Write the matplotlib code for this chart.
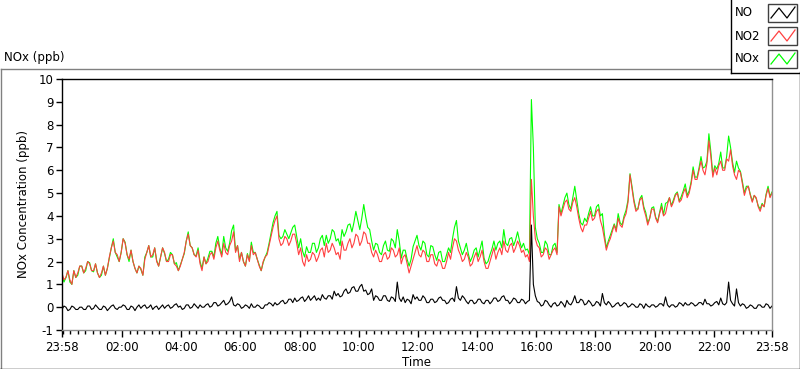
import numpy as np
import matplotlib
matplotlib.use("Agg")
import matplotlib.pyplot as plt
from matplotlib.lines import Line2D
from matplotlib.patches import Rectangle

# ---- data (4-minute samples from 23:58 to 23:58) ----
step_min = 4
no2 = [1.5,1.2,1.3,1.6,1.2,1.0,1.6,1.3,1.5,1.8, 1.8,1.5,1.7,2.0,1.9,1.6,1.6,1.9,1.5,1.3,
       1.5,1.8,1.4,1.7,2.2,2.6,2.9,2.4,2.3,2.0, 2.4,3.0,2.8,2.3,2.1,2.5,2.0,1.7,1.5,1.8,
       1.7,1.4,2.1,2.4,2.7,2.2,2.3,2.6,2.0,1.8, 2.2,2.6,2.4,2.0,2.0,2.3,2.3,1.9,1.8,1.6,
       1.8,2.1,2.4,2.9,3.2,2.7,2.6,2.3,2.2,2.5, 1.9,1.6,2.2,1.9,2.0,2.3,2.4,2.1,2.6,2.9,
       2.5,2.2,2.8,2.4,2.3,2.7,2.9,3.3,2.4,2.7, 2.0,2.4,2.0,1.8,2.3,2.0,2.7,2.3,2.4,2.1,
       1.8,1.6,2.0,2.2,2.3,2.7,3.1,3.5,3.8,4.0, 3.0,2.7,2.8,3.1,3.0,2.7,2.9,3.2,3.2,2.8,
       2.3,2.6,2.0,1.8,2.3,2.0,2.1,2.4,2.3,2.0, 2.2,2.5,2.6,2.2,2.8,2.4,2.5,2.8,2.6,2.3,
       2.4,2.1,2.9,2.5,2.5,2.8,3.0,2.6,2.8,3.2, 3.1,2.7,2.9,3.3,3.2,2.8,2.8,2.4,2.2,2.5,
       2.3,2.0,2.0,2.3,2.4,2.1,2.2,2.6,2.5,2.2, 2.3,2.6,1.9,2.2,2.3,1.9,1.5,1.8,2.1,2.4,
       2.7,2.3,2.2,2.5,2.4,2.0,2.0,2.3,2.3,1.9, 1.8,2.1,2.0,1.7,1.7,2.0,2.4,2.1,2.6,3.0,
       2.9,2.5,2.3,2.0,2.1,2.4,2.2,1.8,1.9,2.2, 2.4,2.0,2.2,2.5,2.0,1.7,1.7,2.0,2.3,2.6,
       2.1,2.4,2.6,2.3,2.9,2.5,2.4,2.7,2.8,2.4, 2.6,2.9,2.7,2.4,2.5,2.2,2.3,2.0,5.6,4.0,
       3.0,2.7,2.6,2.2,2.3,2.6,2.5,2.1,2.3,2.5, 2.6,2.3,4.4,4.0,4.3,4.6,4.7,4.3,4.2,4.6,
       4.8,4.4,3.9,3.5,3.3,3.6,3.6,3.9,4.2,3.8, 3.9,4.2,4.3,3.8,3.5,3.0,2.5,2.8,3.0,3.3,
       3.6,3.3,3.9,3.6,3.5,3.9,4.1,4.6,5.8,5.2, 4.6,4.2,4.3,4.7,4.8,4.3,4.0,3.6,3.9,4.3,
       4.3,3.9,3.7,4.1,4.4,4.0,4.1,4.5,4.8,4.4, 4.6,4.9,5.0,4.6,4.7,5.0,5.2,4.8,5.0,5.4,
       6.0,5.6,5.6,6.0,6.4,6.0,5.8,6.3,7.3,6.6, 5.7,6.1,5.8,6.2,6.4,6.0,6.0,6.5,6.4,6.9,
       6.2,5.8,5.6,6.0,5.9,5.4,4.9,5.2,5.3,4.9, 4.6,4.9,4.8,4.4,4.2,4.5,4.4,4.9,5.2,4.8,
       5.0]
nox = [1.4,1.1,1.3,1.6,1.1,1.0,1.6,1.3,1.4,1.8, 1.8,1.5,1.6,2.0,1.95,1.6,1.55,1.9,1.5,1.3,
       1.4,1.8,1.4,1.7,2.15,2.6,3.0,2.4,2.2,2.0, 2.4,3.0,2.85,2.3,2.0,2.5,2.0,1.7,1.5,1.8,
       1.65,1.4,2.2,2.4,2.7,2.2,2.2,2.6,2.05,1.8, 2.2,2.6,2.35,2.0,2.1,2.4,2.3,1.9,1.95,1.6,
       1.85,2.1,2.35,2.9,3.3,2.7,2.6,2.3,2.25,2.6, 2.0,1.7,2.2,1.9,2.15,2.45,2.45,2.2,2.8,3.1,
       2.6,2.3,3.1,2.6,2.45,2.8,3.35,3.6,2.45,2.7, 2.1,2.4,2.0,1.8,2.35,2.05,2.85,2.4,2.4,2.1,
       1.85,1.6,1.95,2.2,2.4,2.8,3.25,3.7,4.0,4.2, 3.15,3.0,3.1,3.4,3.2,3.0,3.25,3.5,3.6,3.1,
       2.6,3.0,2.45,2.2,2.65,2.4,2.4,2.8,2.8,2.4, 2.6,3.0,3.15,2.7,3.15,2.8,3.0,3.4,3.3,2.9,
       3.0,2.7,3.4,3.1,3.3,3.6,3.65,3.3,3.7,4.2, 3.8,3.4,3.9,4.5,3.95,3.5,3.4,2.9,2.5,2.8,
       2.75,2.4,2.3,2.7,2.9,2.5,2.45,3.0,2.9,2.6, 3.4,2.9,2.15,2.5,2.5,2.1,1.8,2.1,2.65,2.9,
       3.15,2.7,2.5,2.9,2.8,2.3,2.2,2.7,2.65,2.3, 2.05,2.4,2.45,2.0,2.0,2.3,2.6,2.4,3.0,3.5,
       3.8,2.9,2.6,2.3,2.5,2.8,2.35,2.0,2.2,2.5, 2.6,2.2,2.55,2.9,2.15,1.9,2.0,2.3,2.55,2.9,
       2.5,2.8,2.9,2.6,3.4,2.8,2.7,3.0,3.05,2.7, 2.95,3.3,2.9,2.6,2.8,2.5,2.55,2.3,9.1,7.0,
       3.5,3.0,2.8,2.4,2.4,2.9,2.75,2.3,2.3,2.7, 2.8,2.4,4.5,4.1,4.45,4.8,5.0,4.5,4.3,4.8,
       5.3,4.7,4.1,3.7,3.6,3.9,3.75,4.1,4.4,4.0, 4.0,4.4,4.5,4.0,4.1,3.2,2.6,2.9,3.15,3.4,
       3.65,3.4,4.1,3.7,3.6,4.0,4.25,4.7,5.85,5.3, 4.7,4.3,4.3,4.75,4.9,4.4,4.15,3.7,3.9,4.35,
       4.4,3.95,3.75,4.15,4.55,4.05,4.55,4.6,4.8,4.45, 4.7,4.95,5.05,4.65,4.85,5.1,5.4,4.9,5.1,5.5,
       6.15,5.7,5.7,6.1,6.6,6.1,6.15,6.4,7.6,6.8, 5.8,6.2,6.05,6.3,6.8,6.1,6.1,6.6,7.5,7.0,
       6.35,5.9,6.4,6.1,5.95,5.5,5.0,5.3,5.3,4.95, 4.65,4.9,4.75,4.45,4.3,4.55,4.4,4.95,5.3,4.85,
       5.05]
no = [-0.1,0.05,0.0,-0.15,-0.1,0.05,0.0,-0.1,-0.1,0.0, 0.0,-0.1,-0.1,0.05,0.05,-0.1,-0.05,0.1,0.0,-0.1,
      -0.1,0.05,0.0,-0.15,-0.05,0.05,0.1,-0.05,-0.1,0.0, 0.0,0.1,0.05,-0.1,-0.1,0.05,0.0,-0.15,0.0,0.1,
      -0.05,0.05,0.1,-0.05,0.0,0.1,-0.1,0.0,0.05,-0.1, 0.0,0.1,-0.05,0.05,0.1,-0.05,0.0,0.1,0.15,0.0,
      0.05,-0.1,-0.05,0.1,0.1,-0.05,0.0,0.15,0.05,-0.05, 0.1,0.0,0.0,0.1,0.15,0.0,0.05,0.2,0.2,0.05,
      0.1,0.2,0.3,0.1,0.15,0.25,0.45,0.1,0.05,0.15, 0.1,-0.05,0.0,0.1,0.05,-0.05,0.15,0.0,0.0,0.1,
      0.05,-0.05,-0.05,0.1,0.1,0.2,0.15,0.05,0.2,0.1, 0.15,0.25,0.3,0.15,0.2,0.35,0.35,0.2,0.4,0.25,
      0.3,0.4,0.45,0.25,0.35,0.5,0.3,0.4,0.5,0.3, 0.4,0.3,0.55,0.4,0.35,0.5,0.5,0.35,0.7,0.5,
      0.6,0.45,0.5,0.7,0.8,0.6,0.65,0.85,0.9,0.7, 0.7,0.9,1.0,0.7,0.75,0.55,0.6,0.8,0.3,0.5,
      0.45,0.3,0.3,0.5,0.5,0.3,0.25,0.45,0.4,0.25, 1.1,0.4,0.25,0.45,0.2,0.35,0.3,0.15,0.55,0.35,
      0.45,0.3,0.3,0.5,0.4,0.2,0.2,0.35,0.35,0.2, 0.25,0.4,0.45,0.3,0.3,0.15,0.2,0.35,0.4,0.25,
      0.9,0.4,0.3,0.5,0.4,0.25,0.15,0.3,0.3,0.15, 0.2,0.35,0.35,0.2,0.15,0.3,0.3,0.15,0.25,0.4,
      0.4,0.25,0.3,0.45,0.5,0.3,0.3,0.15,0.25,0.4, 0.35,0.2,0.2,0.35,0.3,0.15,0.25,0.3,3.6,1.0,
      0.5,0.25,0.2,0.05,0.1,0.3,0.25,0.1,0.0,0.15, 0.2,0.05,0.1,0.25,0.15,0.0,0.3,0.15,0.1,0.25,
      0.5,0.2,0.2,0.35,0.3,0.1,0.15,0.3,0.2,0.05, 0.1,0.25,0.2,0.05,0.6,0.2,0.1,0.25,0.15,0.0,
      0.05,0.15,0.2,0.05,0.1,0.2,0.15,0.0,0.05,0.15, 0.1,0.0,0.0,0.15,0.1,-0.05,0.15,0.05,0.0,0.1,
      0.1,0.0,0.05,0.15,0.15,0.05,0.45,0.1,0.0,0.1, 0.1,0.0,0.05,0.2,0.15,0.05,0.2,0.1,0.1,0.2,
      0.15,0.05,0.1,0.2,0.2,0.1,0.35,0.15,0.15,0.05, 0.1,0.2,0.25,0.1,0.4,0.15,0.1,0.2,1.1,0.3,
      0.15,0.05,0.8,0.2,0.05,0.15,0.1,-0.05,0.0,0.1, 0.05,-0.05,-0.05,0.1,0.1,0.0,0.0,0.15,0.1,-0.05,
      0.05]

start_label = "23:58"
tick_labels = ["23:58", "02:00", "04:00", "06:00", "08:00", "10:00", "12:00",
               "14:00", "16:00", "18:00", "20:00", "22:00", "23:58"]
y_ticks = list(range(-1, 11))
series_names = ["NO", "NO2", "NOx"]
colors = {"NO": "#000000", "NO2": "#ff4040", "NOx": "#00ff00"}

# ---- helpers ----
def to_min(lbl):
    h, m = map(int, lbl.split(":"))
    return h * 60 + m

t0 = to_min(start_label)
def rel(lbl, idx):
    v = (to_min(lbl) - t0) % 1440
    if idx == len(tick_labels) - 1:
        v = 1440
    return v

tick_pos = [rel(l, i) for i, l in enumerate(tick_labels)]
t = np.arange(len(no2)) * step_min

W, H = 800, 369
fig = plt.figure(figsize=(W / 100, H / 100), dpi=100)
plt.rcParams['font.family'] = ['DejaVu Sans']
FS = 8.5

def fx(x): return x / W
def fy(y): return 1 - y / H

# outer frame
fig.add_artist(Line2D([fx(0.5), fx(730)], [fy(68.5), fy(68.5)], color="#808080", lw=1))
fig.add_artist(Line2D([fx(0.5), fx(0.5)], [fy(68.5), fy(368)], color="#808080", lw=1))
fig.add_artist(Line2D([fx(0), fx(800)], [fy(368.5), fy(368.5)], color="#000000", lw=1))
fig.add_artist(Line2D([fx(799.5), fx(799.5)], [fy(72), fy(369)], color="#000000", lw=1))
fig.text(fx(4), fy(58), "NOx (ppb)", fontsize=FS, va="center", ha="left")

ax = fig.add_axes([fx(62), fy(330), fx(772) - fx(62), fy(79) - fy(330)])
ax.plot(t, nox, color=colors["NOx"], lw=0.8)
ax.plot(t, no2, color=colors["NO2"], lw=0.8)
ax.plot(t, no, color=colors["NO"], lw=0.8)
ax.set_xlim(0, 1440)
ax.set_ylim(-1, 10)
ax.set_yticks(y_ticks)
ax.set_yticklabels([str(v) for v in y_ticks], fontsize=FS)
ax.set_xticks(tick_pos)
ax.set_xticklabels(tick_labels, fontsize=FS)
minor = [m for m in range(0, 1441) if ((m + t0) % 15 == 0)]
ax.set_xticks(minor, minor=True)
ax.tick_params(axis="x", which="major", length=5, width=1, pad=3)
ax.tick_params(axis="x", which="minor", length=3, width=1)
ax.tick_params(axis="y", which="major", length=4, width=1, pad=2)
for s in ("top", "left"):
    ax.spines[s].set_color("#000000")
for s in ("bottom", "right"):
    ax.spines[s].set_color("#909090")
for s in ax.spines.values():
    s.set_linewidth(1)
ax.set_xlabel("Time", fontsize=FS, labelpad=1)
ax.set_ylabel("NOx Concentration (ppb)", fontsize=FS, labelpad=6)

# legend box
fig.add_artist(Line2D([fx(730.5), fx(730.5)], [fy(0), fy(72.5)], color="#000000", lw=1))
fig.add_artist(Line2D([fx(730.5), fx(800)], [fy(72.5), fy(72.5)], color="#000000", lw=1))
row_y = [13, 36, 59]
for name, yc in zip(series_names, row_y):
    fig.text(fx(735), fy(yc), name, fontsize=FS, va="center", ha="left")
    fig.add_artist(Rectangle((fx(768), fy(yc + 9)), fx(797) - fx(768), fy(yc - 9) - fy(yc + 9),
                             facecolor="white", edgecolor="#404040", lw=1))
    fig.add_artist(Line2D([fx(771), fx(779), fx(787), fx(795)],
                          [fy(yc + 5), fy(yc - 5), fy(yc + 5), fy(yc - 6)],
                          color=colors[name], lw=0.9))

fig.savefig("out.png", dpi=100)
